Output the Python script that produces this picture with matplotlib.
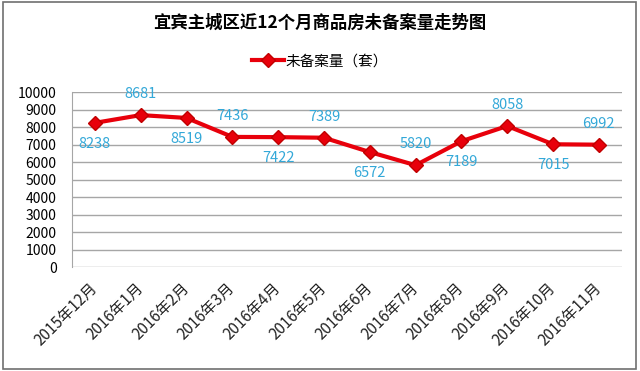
import matplotlib
matplotlib.use('Agg')
import matplotlib.pyplot as plt
from matplotlib.patches import Rectangle

plt.rcParams['font.family'] = ['Noto Sans CJK SC', 'DejaVu Sans']

months = ['2015年12月', '2016年1月', '2016年2月', '2016年3月', '2016年4月', '2016年5月',
          '2016年6月', '2016年7月', '2016年8月', '2016年9月', '2016年10月', '2016年11月']
unsold = [8238, 8681, 8519, 7436, 7422, 7389, 6572, 5820, 7189, 8058, 7015, 6992]
# label above (1) or below (-1) the point
label_side = [-1, 1, -1, 1, -1, 1, -1, 1, -1, 1, -1, 1]

fig = plt.figure(figsize=(6.4, 3.71), dpi=100)
fig.patches.append(Rectangle((0.004, 0.006), 0.99, 0.988, transform=fig.transFigure,
                             fill=False, edgecolor='#707070', linewidth=1.2))

ax = fig.add_axes([0.1125, 0.28, 0.859, 0.472])
x = list(range(len(months)))
line, = ax.plot(x, unsold, color='#e8000b', linewidth=3, marker='D', markersize=7,
                markerfacecolor='#e8000b', markeredgecolor='#c00000', label='未备案量（套）')

for xi, v, s in zip(x, unsold, label_side):
    ax.annotate(str(v), (xi, v), xytext=(0, 15 * s), textcoords='offset points',
                ha='center', va='center', fontsize=10.5, color='#33a8d8')

ax.set_xlim(-0.5, len(months) - 0.5)
ax.set_ylim(0, 10000)
ax.set_yticks(range(0, 10001, 1000))
ax.set_xticks(x)
ax.set_xticklabels(months, rotation=45, ha='right', va='center', rotation_mode='anchor',
                   fontsize=11, color='#222222')
ax.tick_params(axis='y', labelsize=10, length=0, pad=11)
ax.tick_params(axis='x', length=0, pad=13)
ax.grid(axis='y', color='#a6a6a6', linewidth=1)
ax.set_axisbelow(True)
for side in ['top', 'right', 'bottom']:
    ax.spines[side].set_visible(False)
ax.spines['left'].set_color('#a6a6a6')

fig.text(0.5, 0.94, '宜宾主城区近12个月商品房未备案量走势图', ha='center', va='center',
         fontsize=12.5, fontweight='bold')
fig.legend(handles=[line], loc='center', bbox_to_anchor=(0.5, 0.835), frameon=False,
           fontsize=10.5, handlelength=2.2, handletextpad=0.1)

fig.savefig('out.png', dpi=100)
